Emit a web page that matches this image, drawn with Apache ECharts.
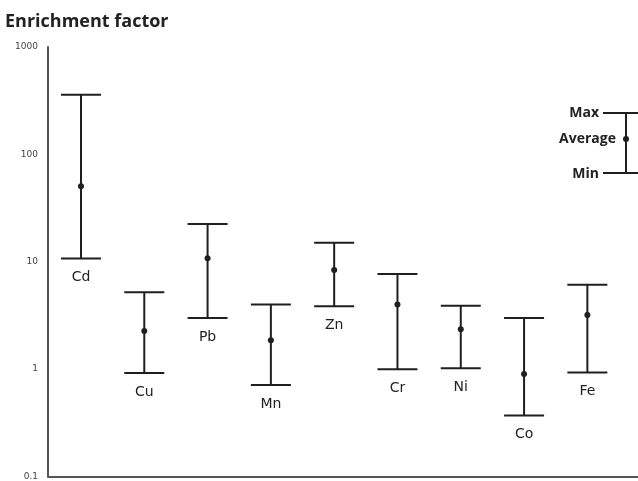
<!DOCTYPE html>
<html>
<head>
<meta charset="utf-8">
<script src="https://cdn.jsdelivr.net/npm/echarts@6/dist/echarts.min.js"></script>
<style>
  html, body { margin: 0; padding: 0; background: #fff; }
  #chart { width: 638px; height: 481px; }
</style>
</head>
<body>
<div id="chart"></div>
<script>
// enrichment factor per element (read off the log scale)
const elements = ['Cd', 'Cu', 'Pb', 'Mn', 'Zn', 'Cr', 'Ni', 'Co', 'Fe']
const maxVals = [359, 5.2, 22.5, 4.0, 15, 7.7, 3.9, 3.0, 6.1]
const avgVals = [50.6, 2.26, 10.8, 1.86, 8.4, 4.0, 2.35, 0.9, 3.2]
const minVals = [10.7, 0.92, 3.0, 0.71, 3.86, 1.0, 1.02, 0.37, 0.93]
const yTicks = [0.1, 1, 10, 100, 1000]

const ink = '#1f1f1f'
const chart = echarts.init(document.getElementById('chart'))

const data = elements.map((name, i) => [i, minVals[i], avgVals[i], maxVals[i]])

chart.setOption({
  animation: false,
  title: {
    text: 'Enrichment factor',
    left: 5,
    top: 13,
    padding: 0,
    textStyle: { fontFamily: 'Open Sans', fontWeight: 'bold', fontSize: 18, color: '#222' }
  },
  grid: { left: 48, top: 47, right: 0, bottom: 2 },
  xAxis: {
    type: 'value',
    min: -0.521,
    max: 8.8,
    axisLine: { show: true, onZero: false, lineStyle: { color: '#555', width: 2 } },
    axisTick: { show: false },
    axisLabel: { show: false },
    splitLine: { show: false }
  },
  yAxis: {
    type: 'log',
    logBase: 10,
    min: 0.1,
    max: 1000,
    axisLine: { show: true, onZero: false, lineStyle: { color: '#555', width: 2 } },
    axisTick: { show: false },
    splitLine: { show: false },
    axisLabel: {
      margin: 10,
      fontSize: 9,
      fontFamily: 'DejaVu Sans',
      color: '#444',
      formatter: (v) => (yTicks.includes(+v.toPrecision(3)) ? String(+v.toPrecision(3)) : '')
    }
  },
  series: [
    {
      type: 'custom',
      data: data,
      encode: { x: 0, y: [1, 2, 3] },
      renderItem: function (params, api) {
        const i = api.value(0)
        const pMin = api.coord([i, api.value(1)])
        const pAvg = api.coord([i, api.value(2)])
        const pMax = api.coord([i, api.value(3)])
        const half = 20
        const st = { stroke: ink, lineWidth: 2 }
        return {
          type: 'group',
          children: [
            { type: 'line', shape: { x1: pMax[0], y1: pMax[1], x2: pMin[0], y2: pMin[1] }, style: st },
            { type: 'line', shape: { x1: pMax[0] - half, y1: pMax[1], x2: pMax[0] + half, y2: pMax[1] }, style: st },
            { type: 'line', shape: { x1: pMin[0] - half, y1: pMin[1], x2: pMin[0] + half, y2: pMin[1] }, style: st },
            { type: 'circle', shape: { cx: pAvg[0], cy: pAvg[1], r: 3 }, style: { fill: ink } },
            {
              type: 'text',
              x: pMin[0],
              y: pMin[1] + 19,
              style: {
                text: elements[i],
                fill: '#222',
                font: '14px "DejaVu Sans"',
                align: 'center',
                verticalAlign: 'middle'
              }
            }
          ]
        }
      }
    }
  ],
  // key in the top right corner
  graphic: [
    { type: 'line', shape: { x1: 626, y1: 113, x2: 626, y2: 173 }, style: { stroke: ink, lineWidth: 2 } },
    { type: 'line', shape: { x1: 603, y1: 113, x2: 638, y2: 113 }, style: { stroke: ink, lineWidth: 2 } },
    { type: 'line', shape: { x1: 603, y1: 173, x2: 638, y2: 173 }, style: { stroke: ink, lineWidth: 2 } },
    { type: 'circle', shape: { cx: 626, cy: 139, r: 3 }, style: { fill: ink } },
    { type: 'text', x: 599, y: 113, style: { text: 'Max', fill: '#222', font: 'bold 14px "Open Sans"', align: 'right', verticalAlign: 'middle' } },
    { type: 'text', x: 616, y: 139, style: { text: 'Average', fill: '#222', font: 'bold 14px "Open Sans"', align: 'right', verticalAlign: 'middle' } },
    { type: 'text', x: 599, y: 174, style: { text: 'Min', fill: '#222', font: 'bold 14px "Open Sans"', align: 'right', verticalAlign: 'middle' } }
  ]
})
</script>
</body>
</html>
